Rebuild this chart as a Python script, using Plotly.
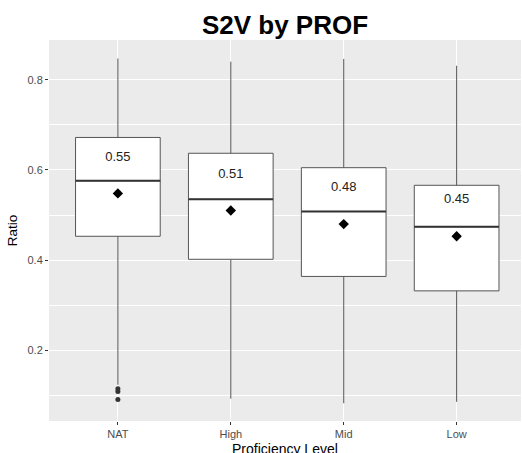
import plotly.graph_objects as go

categories = ["NAT", "High", "Mid", "Low"]
q1 = [0.453, 0.402, 0.364, 0.332]
median = [0.576, 0.535, 0.508, 0.474]
q3 = [0.672, 0.637, 0.605, 0.566]
lower_whisker = [0.124, 0.093, 0.083, 0.086]
upper_whisker = [0.847, 0.840, 0.846, 0.831]
means = [0.548, 0.510, 0.480, 0.453]
outlier_cat = ["NAT", "NAT", "NAT"]
outlier_vals = [0.115, 0.109, 0.091]

xpos = {c: i + 1 for i, c in enumerate(categories)}
xs = [xpos[c] for c in categories]
BOXW = 0.75
LABEL_OFFSET = 0.08

fig = go.Figure()

for i, c in enumerate(categories):
    fig.add_trace(go.Box(
        x=[xs[i]], q1=[q1[i]], median=[median[i]], q3=[q3[i]],
        lowerfence=[lower_whisker[i]], upperfence=[upper_whisker[i]],
        width=BOXW, whiskerwidth=0, boxpoints=False,
        fillcolor="white", line=dict(color="#555555", width=1),
        showlegend=False, hoverinfo="skip",
    ))

# thicker median lines (ggplot fatten)
mx, my = [], []
for i in range(len(categories)):
    mx += [xs[i] - BOXW / 2, xs[i] + BOXW / 2, None]
    my += [median[i], median[i], None]
fig.add_trace(go.Scatter(x=mx, y=my, mode="lines",
                         line=dict(color="#333333", width=2),
                         showlegend=False, hoverinfo="skip"))

# outliers
fig.add_trace(go.Scatter(x=[xpos[c] for c in outlier_cat], y=outlier_vals,
                         mode="markers", marker=dict(color="#333333", size=5),
                         showlegend=False))

# means
fig.add_trace(go.Scatter(x=xs, y=means, mode="markers",
                         marker=dict(symbol="diamond", color="black", size=8),
                         showlegend=False))

# mean labels
fig.add_trace(go.Scatter(x=xs, y=[m + LABEL_OFFSET for m in means],
                         mode="text", text=[f"{m:.2f}" for m in means],
                         textfont=dict(family="Liberation Sans", size=13, color="#222222"),
                         showlegend=False))

fig.update_layout(
    width=522, height=453,
    margin=dict(l=49, r=1, t=40, b=32, autoexpand=False),
    paper_bgcolor="white", plot_bgcolor="#EBEBEB",
    font=dict(family="Liberation Sans"),
    title=dict(text="<b>S2V by PROF</b>", x=0.546, xanchor="center",
               y=1 - 25 / 453, yanchor="middle", automargin=False,
               font=dict(family="Liberation Sans", size=26, color="black")),
    annotations=[dict(text="Proficiency Level", xref="paper", yref="paper",
                      x=0.5, y=-(449 - 421) / 381, xanchor="center", yanchor="middle",
                      showarrow=False, font=dict(size=14, color="black"))],
)
fig.update_xaxes(
    automargin=False,
    range=[0.39, 4.57], tickvals=xs, ticktext=categories,
    showgrid=True, gridcolor="white", gridwidth=1.2, zeroline=False,
    ticks="outside", ticklen=3, tickcolor="#333333",
    tickfont=dict(size=11, color="#4D4D4D"),
)
fig.update_yaxes(
    automargin=False,
    range=[0.0436, 0.888], tickvals=[0.2, 0.4, 0.6, 0.8],
    ticktext=["0.2", "0.4", "0.6", "0.8"],
    showgrid=True, gridcolor="white", gridwidth=1.2, zeroline=False,
    minor=dict(tickvals=[0.1, 0.3, 0.5, 0.7], showgrid=True, gridcolor="white", gridwidth=0.6, ticks=""),
    ticks="outside", ticklen=3, tickcolor="#333333",
    tickfont=dict(size=11, color="#4D4D4D"),
    title=dict(text="Ratio", font=dict(size=13.5, color="black"), standoff=6),
)

fig.write_html("out.html", config={"displayModeBar": False},
               post_script="document.body.style.margin='0px';document.body.style.overflow='hidden';")
